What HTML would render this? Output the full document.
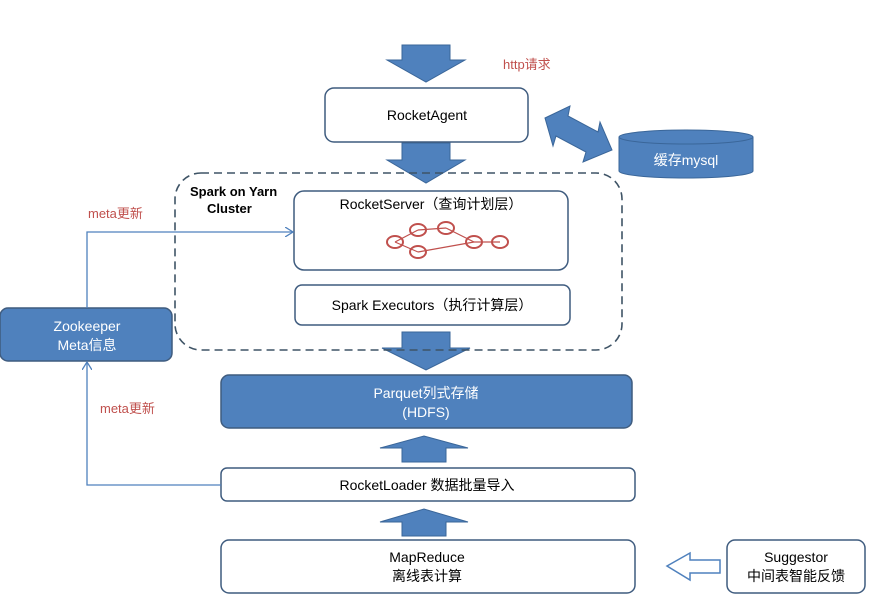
<!DOCTYPE html>
<html><head><meta charset="utf-8"><style>
body{margin:0;background:#fff;}
svg text{font-family:"Liberation Sans","Noto Sans CJK SC",sans-serif;}
</style></head><body>
<svg width="871" height="595" viewBox="0 0 871 595" xmlns="http://www.w3.org/2000/svg">
<defs>
<marker id="ah" markerWidth="10" markerHeight="10" refX="8" refY="5" orient="auto" markerUnits="userSpaceOnUse">
<path d="M0,0 L8,5 L0,10" fill="none" stroke="#4f81bd" stroke-width="1.3"/></marker>
</defs>
<g fill="#4f81bd" stroke="#3a6699" stroke-width="1">
<!-- down arrow top -->
<path d="M402,45 H450 V60 H465 L426,82 L387,60 H402 Z"/>
<path d="M402,143 H450 V160 H465 L426,183 L387,160 H402 Z"/>
<path d="M402,332 H450 V348 H470 L426,370 L382,348 H402 Z"/>
<!-- up arrows -->
<path d="M402,462 H446 V448 H468 L424,436 L380,448 H402 Z"/>
<path d="M402,536 H446 V522 H468 L424,509 L380,522 H402 Z"/>
<!-- double arrow -->
<path d="M545,118 L570,106 L568,116 L598,132 L600,122 L612,150 L583,162 L586,152 L556,136 L553,146 Z"/>
</g>
<!-- hollow left arrow -->
<path d="M720,560 H690 V553 L667,566 L690,580 V573 H720 Z" fill="#fff" stroke="#4f81bd" stroke-width="1.5"/>
<!-- cylinder -->
<path d="M619,137 V171 A67,7 0 0 0 753,171 V137" fill="#4f81bd" stroke="#3a6699"/>
<ellipse cx="686" cy="137" rx="67" ry="7" fill="#4f81bd" stroke="#3a6699"/>
<text x="686" y="165" font-size="14" fill="#fff" text-anchor="middle">缓存mysql</text>
<text x="503" y="69" font-size="13" fill="#c0504d">http请求</text>
<!-- dashed cluster -->
<rect x="175" y="173" width="447" height="177" rx="26" fill="none" stroke="#3f5466" stroke-width="1.6" stroke-dasharray="8,5"/>
<text x="190" y="196" font-size="13" font-weight="bold" fill="#000">Spark on Yarn</text>
<text x="207" y="213" font-size="13" font-weight="bold" fill="#000">Cluster</text>
<!-- boxes -->
<g stroke="#3f5c7f" stroke-width="1.5" fill="#fff">
<rect x="325" y="88" width="203" height="54" rx="9"/>
<rect x="294" y="191" width="274" height="79" rx="10"/>
<rect x="295" y="285" width="275" height="40" rx="7"/>
<rect x="221" y="468" width="414" height="33" rx="6"/>
<rect x="221" y="540" width="414" height="53" rx="8"/>
<rect x="727" y="540" width="138" height="53" rx="8"/>
<rect x="221" y="375" width="411" height="53" rx="8" fill="#4f81bd"/>
<rect x="0" y="308" width="172" height="53" rx="8" fill="#4f81bd"/>
</g>
<g font-size="14" fill="#000" text-anchor="middle">
<text x="427" y="120">RocketAgent</text>
<text x="431" y="209">RocketServer（查询计划层）</text>
<text x="432" y="310">Spark Executors（执行计算层）</text>
<text x="427" y="490">RocketLoader  数据批量导入</text>
<text x="427" y="562">MapReduce</text>
<text x="427" y="581">离线表计算</text>
<text x="796" y="562">Suggestor</text>
<text x="796" y="581">中间表智能反馈</text>
<text x="426" y="398" fill="#fff">Parquet列式存储</text>
<text x="426" y="417" fill="#fff">(HDFS)</text>
<text x="87" y="331" fill="#fff">Zookeeper</text>
<text x="87" y="350" fill="#fff">Meta信息</text>
</g>
<!-- graph -->
<g stroke="#c0504d" stroke-width="1.2" fill="none">
<line x1="395" y1="242" x2="418" y2="230"/><line x1="395" y1="242" x2="418" y2="252"/>
<line x1="418" y1="230" x2="446" y2="228"/><line x1="446" y1="228" x2="474" y2="242"/>
<line x1="418" y1="252" x2="474" y2="242"/><line x1="474" y1="242" x2="500" y2="242"/>
<g stroke-width="2"><ellipse cx="395" cy="242" rx="8" ry="6"/><ellipse cx="418" cy="230" rx="8" ry="6"/>
<ellipse cx="446" cy="228" rx="8" ry="6"/><ellipse cx="418" cy="252" rx="8" ry="6"/>
<ellipse cx="474" cy="242" rx="8" ry="6"/><ellipse cx="500" cy="242" rx="8" ry="6"/></g>
</g>
<!-- connectors -->
<polyline points="87,308 87,232 293,232" fill="none" stroke="#4f81bd" stroke-width="1.3" marker-end="url(#ah)"/>
<polyline points="221,485 87,485 87,362" fill="none" stroke="#4f81bd" stroke-width="1.3" marker-end="url(#ah)"/>
<text x="88" y="218" font-size="13" fill="#c0504d">meta更新</text>
<text x="100" y="413" font-size="13" fill="#c0504d">meta更新</text>
</svg>
</body></html>
